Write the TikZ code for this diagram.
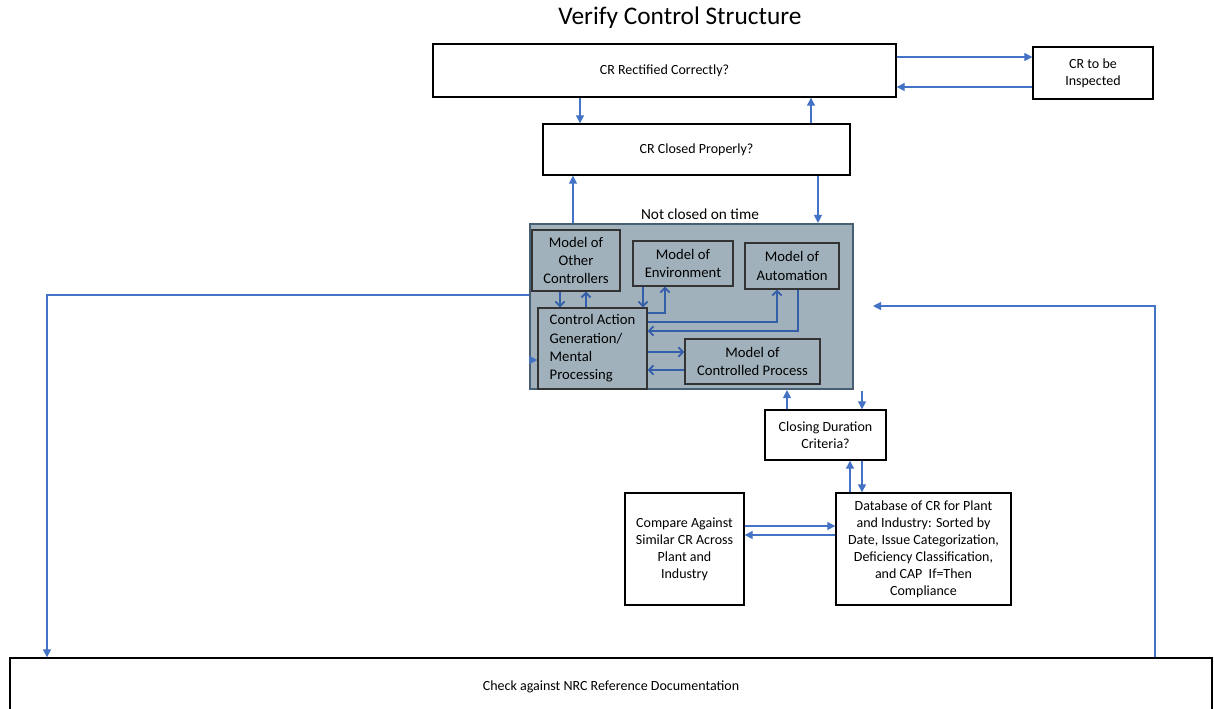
\documentclass[tikz,border=0pt]{standalone}
\usepackage{fontspec}
\setmainfont{Carlito}
\usetikzlibrary{arrows.meta}
\definecolor{linkblue}{RGB}{68,114,196}
\definecolor{innerblue}{RGB}{52,94,170}
\definecolor{slate}{RGB}{160,177,187}
\definecolor{slateedge}{RGB}{70,95,115}
\tikzset{
  box/.style={draw=black,line width=1pt,fill=white,align=center,inner sep=2pt,font=\fontsize{10.5}{12.75}\selectfont},
  inbox/.style={draw=black!80,line width=0.9pt,fill=slate,align=center,inner sep=2pt,font=\fontsize{11}{13.75}\selectfont},
  link/.style={draw=linkblue,line width=0.85pt,-{Triangle[length=6pt,width=6pt]}},
  inlink/.style={draw=innerblue,line width=1.3pt,-{Straight Barb[length=3.5pt,width=7pt]}},
}
\begin{document}
\begin{tikzpicture}[x=0.75pt,y=-0.75pt]
\useasboundingbox (0,0) rectangle (1214,708);
% top of the loop
\node (title) at (680,18) {\fontsize{19}{22}\selectfont Verify Control Structure};
\node[box,minimum width=347.25pt,minimum height=39.75pt] (rect) at (664.5,70.5) {CR Rectified Correctly?};
\node[box,minimum width=90pt,minimum height=39pt] (insp) at (1093,73) {CR to be\\Inspected};
\node[box,minimum width=230.25pt,minimum height=38.25pt] (closed) at (696.5,149.5) {CR Closed Properly?};
% controller
\node[draw=slateedge,line width=1.6pt,fill=slate,minimum width=242.25pt,minimum height=123.75pt] (ctrl) at (691.5,306.5) {};
\node[font=\fontsize{11.5}{14}\selectfont] (late) at (700,214) {Not closed on time};
\node[inbox,minimum width=66pt,minimum height=45.75pt] (other) at (576,260.5) {Model of\\Other\\Controllers};
\node[inbox,minimum width=75pt,minimum height=33.75pt] (env) at (683,263.5) {Model of\\Environment};
\node[inbox,minimum width=70.5pt,minimum height=34.5pt] (auto) at (792,266) {Model of\\Automation};
\node[inbox,align=left,minimum width=81.75pt,minimum height=60.75pt] (cag) at (592.5,348.5) {Control Action\\Generation/\\Mental\\Processing};
\node[inbox,minimum width=101.25pt,minimum height=33.75pt] (cp) at (752.5,361.5) {Model of\\Controlled Process};
% lower boxes
\node[box,minimum width=90.75pt,minimum height=37.5pt] (cdc) at (825.5,435) {Closing Duration\\Criteria?};
\node[box,minimum width=131.25pt,minimum height=84pt] (db) at (923.5,549) {Database of CR for Plant\\and Industry: Sorted by\\Date, Issue Categorization,\\Deficiency Classification,\\and CAP\ \ If=Then\\Compliance};
\node[box,minimum width=89.25pt,minimum height=84pt] (cmp) at (684.5,549) {Compare Against\\Similar CR Across\\Plant and\\Industry};
\node[box,minimum width=901.5pt,minimum height=43.5pt] (nrc) at (611,687) {Check against NRC Reference Documentation};
\coordinate (ret) at (873,306);
\coordinate (dur) at (862,391);
% connectors
\draw[link] (rect.east |- 0,57) -- (insp.west |- 0,57);
\draw[link] (insp.west |- 0,87) -- (rect.east |- 0,87);
\draw[link] (rect.south -| 580,0) -- (closed.north -| 580,0);
\draw[link] (closed.north -| 811,0) -- (rect.south -| 811,0);
\draw[link] (ctrl.north -| 573,0) -- (closed.south -| 573,0);
\draw[link] (closed.south -| 818,0) -- (ctrl.north -| 818,0);
\draw[link] (ctrl.west |- 0,295) -| (nrc.north -| 47,0);
\draw[link] (nrc.north -| 1155,0) |- (ret);
\draw[link] (cdc.north -| 787,0) -- (ctrl.south -| 787,0);
\draw[link] (dur) -- (cdc.north -| 862,0);
\draw[link] (db.north -| 850,0) -- (cdc.south -| 850,0);
\draw[link] (cdc.south -| 862,0) -- (db.north -| 862,0);
\draw[link] (cmp.east |- 0,526) -- (db.west |- 0,526);
\draw[link] (db.west |- 0,535) -- (cmp.east |- 0,535);
% inside the controller
\draw[inlink] (other.south -| 560,0) -- (cag.north -| 560,0);
\draw[inlink] (cag.north -| 586,0) -- (other.south -| 586,0);
\draw[inlink] (env.south -| 643,0) -- (cag.north -| 643,0);
\draw[inlink] (cag.east |- 0,313) -| (env.south -| 665,0);
\draw[inlink] (cag.east |- 0,322) -| (auto.south -| 777,0);
\draw[inlink] (auto.south -| 798,0) |- (cag.east |- 0,331);
\draw[inlink] (cag.east |- 0,352) -- (cp.west |- 0,352);
\draw[inlink] (cp.west |- 0,370) -- (cag.east |- 0,370);
\draw[link] (ctrl.west |- 0,360) -- (cag.west |- 0,360);
\end{tikzpicture}
\end{document}
